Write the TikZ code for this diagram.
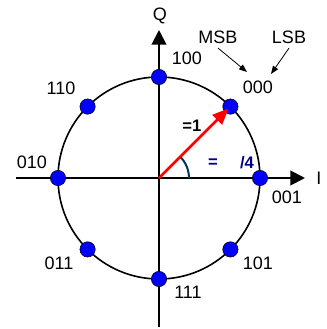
\documentclass[tikz,border=0pt]{standalone}
\usepackage{fontspec}
\setmainfont{Liberation Sans}
\usetikzlibrary{arrows.meta,positioning}

\begin{document}
\begin{tikzpicture}[x=0.75pt,y=0.75pt,
	symb/.style={circle,draw=black,fill=blue,inner sep=0pt,minimum size=11.5pt},
	bits/.style={font=\fontsize{13.5}{15}\selectfont},
	axisline/.style={line width=1.5pt,-{Triangle[length=11pt,width=11pt]}},
	tagline/.style={line width=0.6pt,-{Triangle[length=6pt,width=4.5pt]}}]
	\useasboundingbox (-159,-151) rectangle (167,178);
	\coordinate (O) at (0,0);
	% axes
	\coordinate (xl) at (-143,0);
	\coordinate (xr) at (146,0);
	\coordinate (yb) at (0,-149);
	\coordinate (yt) at (0,148);
	\draw[axisline] (xl) -- (xr);
	\draw[axisline] (yb) -- (yt);
	\node[bits] (I) at (160,0) {I};
	\node[bits] (Q) at (1,162) {Q};
	% unit circle
	\draw[line width=1.2pt] (O) circle (101);
	% angle
	\draw[line width=1.5pt, draw={rgb,255:red,0;green,51;blue,102}] (30,0) arc (0:45:30);
	\node[font=\fontsize{12.5}{14}\selectfont\bfseries, text={rgb,255:red,0;green,0;blue,140}] (eq) at (54,15) {=};
	\node[font=\fontsize{12.5}{14}\selectfont\bfseries, text={rgb,255:red,0;green,0;blue,140}] (pi4) at (88,15) {/4};
	% constellation points
	\node[symb] (d000) at (45:101) {};
	\node[symb] (d100) at (90:101) {};
	\node[symb] (d110) at (135:101) {};
	\node[symb] (d010) at (180:101) {};
	\node[symb] (d011) at (225:101) {};
	\node[symb] (d111) at (270:101) {};
	\node[symb] (d101) at (315:101) {};
	\node[symb] (d001) at (0:101) {};
	\node[bits] (l000) at (99,91) {000};
	\node[bits] (l100) at (28,120) {100};
	\node[bits] (l110) at (-98,90) {110};
	\node[bits] (l010) at (-127,16) {010};
	\node[bits] (l011) at (-100,-85) {011};
	\node[bits] (l111) at (29,-114) {111};
	\node[bits] (l101) at (99,-85) {101};
	\node[bits] (l001) at (128,-19) {001};
	% vector
	\draw[red, line width=2pt, -{Triangle[length=12pt,width=10pt]}, shorten >=2pt] (O) -- (d000.center);
	\node[font=\fontsize{12.5}{14}\selectfont\bfseries] (amp) at (33,52) {=1};
	% bit order
	\node[bits] (msb) at (59,141) {MSB};
	\node[bits] (lsb) at (130,141) {LSB};
	\coordinate (m000) at (88,106);
	\coordinate (s000) at (112,104);
	\draw[tagline] (msb.south) -- (m000);
	\draw[tagline] (lsb.south) -- (s000);
\end{tikzpicture}
\end{document}
